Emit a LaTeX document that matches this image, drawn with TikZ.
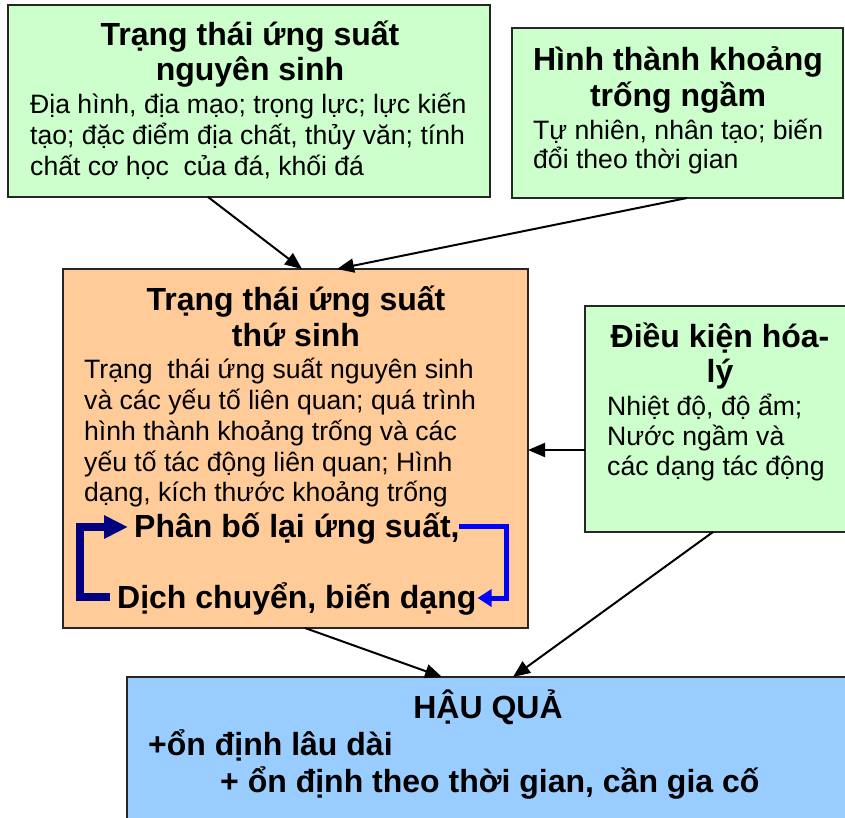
\documentclass[tikz,border=0pt]{standalone}
\usepackage{fontspec}
\setmainfont{Liberation Sans}
\usetikzlibrary{arrows.meta,calc}
\definecolor{boxgreen}{HTML}{CCFFCC}
\definecolor{boxorange}{HTML}{FFCC99}
\definecolor{boxblue}{HTML}{99CCFF}
\definecolor{loopnavy}{HTML}{000080}
\definecolor{loopblue}{HTML}{0000FF}
\newcommand\bodyfont{\fontsize{26.6}{31}\selectfont}
\newcommand\headfont{\fontsize{32}{35}\selectfont\bfseries}
\tikzset{
  box/.style={draw=black!85, line width=1.8pt, inner sep=0pt, outer sep=0pt, anchor=north west},
  bodyline/.style={inner sep=0pt, anchor=base west, font=\bodyfont},
  headline/.style={inner sep=0pt, anchor=base, font=\headfont},
  headleft/.style={inner sep=0pt, anchor=base west, font=\headfont},
  conn/.style={line width=2pt, -{Triangle[length=17pt,width=14pt]}},
  loopL/.style={draw=loopnavy, line width=8pt, -{Triangle[length=24pt,width=22pt]}},
  loopR/.style={draw=loopblue, line width=5pt, -{Triangle[length=14pt,width=17pt]}}
}
\begin{document}
\begin{tikzpicture}[x=1pt,y=-1pt]
\useasboundingbox (0,0) rectangle (845,818);
\clip (0,0) rectangle (845,818);
% boxes
\node[box, fill=boxgreen, minimum width=482, minimum height=192] (b1) at (8,5) {};
\node[box, fill=boxgreen, minimum width=331, minimum height=170] (b2) at (512,28) {};
\node[box, fill=boxorange, minimum width=465, minimum height=359] (b3) at (63,269) {};
\node[box, fill=boxgreen, minimum width=265, minimum height=226] (b4) at (585,306) {};
\node[box, fill=boxblue, minimum width=725, minimum height=160] (b5) at (127,677) {};
% box 1 text
\node[headline] (t1a) at (250,46) {Trạng thái ứng suất};
\node[headline] (t1b) at (250,81) {nguyên sinh};
\node[bodyline] (t1c) at (30,114) {Địa hình, địa mạo; trọng lực; lực kiến};
\node[bodyline] (t1d) at (30,145) {tạo; đặc điểm địa chất, thủy văn; tính};
\node[bodyline] (t1e) at (30,176) {chất cơ học\ \ của đá, khối đá};
% box 2 text
\node[headline] (t2a) at (678,71) {Hình thành khoảng};
\node[headline] (t2b) at (678,107) {trống ngầm};
\node[bodyline] (t2c) at (533,140) {Tự nhiên, nhân tạo; biến};
\node[bodyline] (t2d) at (533,169) {đổi theo thời gian};
% box 3 text
\node[headline] (t3a) at (296,310) {Trạng thái ứng suất};
\node[headline] (t3b) at (296,346) {thứ sinh};
\node[bodyline] (t3c) at (84,378) {Trạng\ \ thái ứng suất nguyên sinh};
\node[bodyline] (t3d) at (84,409) {và các yếu tố liên quan; quá trình};
\node[bodyline] (t3e) at (84,440) {hình thành khoảng trống và các};
\node[bodyline] (t3f) at (84,471) {yếu tố tác động liên quan; Hình};
\node[bodyline] (t3g) at (84,501) {dạng, kích thước khoảng trống};
\node[headleft] (phan) at (134,537) {Phân bố lại ứng suất,};
\node[headleft] (dich) at (117,608) {Dịch chuyển, biến dạng};
% box 4 text
\node[headline] (t4a) at (720,347) {Điều kiện hóa-};
\node[headline] (t4b) at (720,382) {lý};
\node[bodyline] (t4c) at (607,415) {Nhiệt độ, độ ẩm;};
\node[bodyline] (t4d) at (607,445) {Nước ngầm và};
\node[bodyline] (t4e) at (607,475) {các dạng tác động};
% box 5 text
\node[headline] (t5a) at (488,718) {HẬU QUẢ};
\node[headleft] (t5b) at (148,755) {+ổn định lâu dài};
\node[headleft] (t5c) at (220,792) {+ ổn định theo thời gian, cần gia cố};
% connectors
\draw[conn] ($(b1.south west)+(200,0)$) -- ($(b3.north west)+(239,0)$);
\draw[conn] ($(b2.south west)+(175,0)$) -- ($(b3.north west)+(274,0)$);
\draw[conn] ($(b4.north west)+(0,144)$) -- ($(b3.north east)+(0,181)$);
\draw[conn] ($(b3.south west)+(242,0)$) -- ($(b5.north west)+(315,0)$);
\draw[conn] ($(b4.south west)+(128,0)$) -- ($(b5.north west)+(386,0)$);
% loop arrows
\draw[loopL] ($(dich.base west)+(-7,-11)$) -| ($(phan.base west)+(-54,-10)$) -- ($(phan.base west)+(-6,-10)$);
\draw[loopR] ($(phan.base east)+(-1,-11)$) -| ($(dich.base east)+(30,-10)$) -- ($(dich.base east)+(1,-10)$);
\end{tikzpicture}
\end{document}
